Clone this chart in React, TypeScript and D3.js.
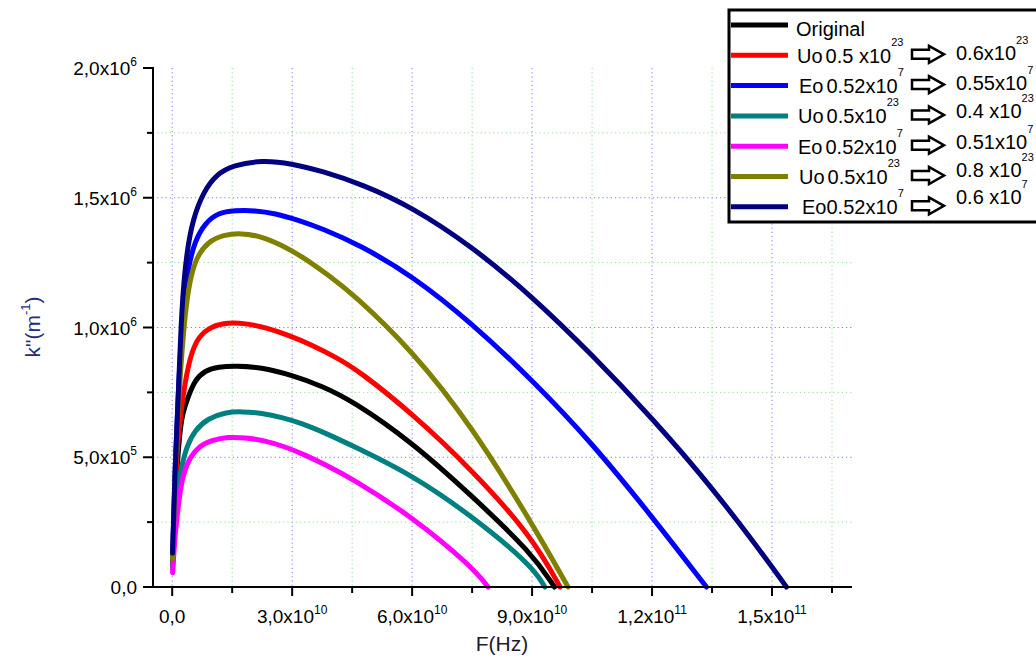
import React from "react";
import * as d3 from "d3";

// ---------- data ----------
const xTickValues = [0, 3e10, 6e10, 9e10, 1.2e11, 1.5e11];
const xTickMantissas = ["0,0", "3,0x10", "6,0x10", "9,0x10", "1,2x10", "1,5x10"];
const xTickExponents = ["", "10", "10", "10", "11", "11"];
const xMinorTicks = [1.5e10, 4.5e10, 7.5e10, 1.05e11, 1.35e11, 1.65e11];

const yTickValues = [0, 5e5, 1e6, 1.5e6, 2e6];
const yTickMantissas = ["0,0", "5,0x10", "1,0x10", "1,5x10", "2,0x10"];
const yTickExponents = ["", "5", "6", "6", "6"];
const yMinorTicks = [2.5e5, 7.5e5, 1.25e6, 1.75e6];

// [F (Hz), k'' (m^-1)]
const originalData: [number, number][] = [
  [1e8, 0.08e6], [8e8, 0.38e6], [1.9e9, 0.6e6], [2.6e9, 0.67e6], [4e9, 0.733e6],
  [5.7e9, 0.798e6], [8.2e9, 0.834e6], [1.15e10, 0.849e6], [1.6e10, 0.852e6],
  [2.2e10, 0.847e6], [3.0e10, 0.816e6], [3.75e10, 0.774e6], [4.5e10, 0.718e6],
  [6.0e10, 0.558e6], [7.5e10, 0.35e6], [9.0e10, 0.13e6], [9.56e10, 0],
];
const uo06Data: [number, number][] = [
  [1e8, 0.09e6], [8e8, 0.42e6], [1.6e9, 0.6e6], [2.75e9, 0.746e6], [4.4e9, 0.887e6],
  [6.5e9, 0.965e6], [9.85e9, 1.006e6], [1.4e10, 1.019e6], [1.82e10, 1.016e6],
  [2.32e10, 1.001e6], [2.9e10, 0.971e6], [3.49e10, 0.933e6], [4.15e10, 0.881e6],
  [4.69e10, 0.83e6], [6.0e10, 0.669e6], [7.5e10, 0.451e6], [9.0e10, 0.194e6],
  [9.7e10, 0],
];
const eo055Data: [number, number][] = [
  [1e8, 0.12e6], [8e8, 0.5e6], [1.6e9, 0.78e6], [2.75e9, 1.08e6], [4e9, 1.234e6],
  [5.7e9, 1.334e6], [8.2e9, 1.402e6], [1.15e10, 1.4425e6], [1.57e10, 1.451e6],
  [2.07e10, 1.451e6], [2.57e10, 1.44e6], [3.15e10, 1.414e6], [3.74e10, 1.382e6],
  [4.69e10, 1.318e6], [6.0e10, 1.2e6], [7.5e10, 1.016e6], [9.0e10, 0.798e6],
  [1.05e11, 0.555e6], [1.2e11, 0.271e6], [1.336e11, 0],
];
const uo04Data: [number, number][] = [
  [1e8, 0.07e6], [8e8, 0.3e6], [1.5e9, 0.4e6], [2.35e9, 0.4636e6], [3.6e9, 0.541e6],
  [5.7e9, 0.605e6], [9e9, 0.65e6], [1.32e10, 0.673e6], [1.74e10, 0.6765e6],
  [2.24e10, 0.67e6], [2.74e10, 0.654e6], [3.24e10, 0.631e6], [3.82e10, 0.594e6],
  [4.5e10, 0.545e6], [6.0e10, 0.432e6], [7.5e10, 0.273e6], [9.0e10, 0.082e6],
  [9.32e10, 0],
];
const eo051Data: [number, number][] = [
  [1e8, 0.055e6], [7e8, 0.2e6], [1.5e9, 0.309e6], [2.35e9, 0.412e6], [4e9, 0.489e6],
  [6.5e9, 0.541e6], [9.85e9, 0.566e6], [1.4e10, 0.578e6], [1.82e10, 0.576e6],
  [2.32e10, 0.564e6], [2.82e10, 0.541e6], [3.32e10, 0.509e6], [3.82e10, 0.472e6],
  [4.5e10, 0.418e6], [6.0e10, 0.271e6], [7.5e10, 0.078e6], [7.9e10, 0],
];
const uo08Data: [number, number][] = [
  [1e8, 0.11e6], [8e8, 0.48e6], [1.8e9, 0.78e6], [3.2e9, 1.055e6], [4.4e9, 1.183e6],
  [6.1e9, 1.273e6], [9e9, 1.331e6], [1.275e10, 1.357e6], [1.735e10, 1.364e6],
  [2.235e10, 1.351e6], [2.735e10, 1.318e6], [3.32e10, 1.267e6], [3.9e10, 1.202e6],
  [4.5e10, 1.132e6], [6.0e10, 0.912e6], [7.5e10, 0.618e6], [9.0e10, 0.245e6],
  [9.9e10, 0],
];
const eo06Data: [number, number][] = [
  [1e8, 0.13e6], [7e8, 0.45e6], [1.5e9, 0.72e6], [2.35e9, 1.08e6], [3.6e9, 1.292e6],
  [5.25e9, 1.421e6], [7.75e9, 1.521e6], [1.11e10, 1.591e6], [1.525e10, 1.625e6],
  [2.235e10, 1.645e6], [2.985e10, 1.632e6], [3.735e10, 1.603e6], [4.75e10, 1.552e6],
  [6.0e10, 1.464e6], [7.5e10, 1.312e6], [9.0e10, 1.12e6], [1.05e11, 0.895e6],
  [1.2e11, 0.651e6], [1.35e11, 0.385e6], [1.5e11, 0.079e6], [1.536e11, 0],
];

const seriesData = [originalData, uo06Data, eo055Data, uo04Data, eo051Data, uo08Data, eo06Data];
const seriesColors = ["#000000", "#ff0000", "#0000ff", "#008080", "#ff00ff", "#808000", "#000080"];

const legendParams = ["Uo", "Eo", "Uo", "Eo", "Uo", "Eo"];
const legendFrom = ["0.5 x10", "0.52x10", "0.5x10", "0.52x10", "0.5x10", "0.52x10"];
const legendFromExp = ["23", "7", "23", "7", "23", "7"];
const legendTo = ["0.6x10", "0.55x10", "0.4 x10", "0.51x10", "0.8 x10", "0.6 x10"];
const legendToExp = ["23", "7", "23", "7", "23", "7"];

// ---------- layout ----------
const W = 1036;
const H = 659;
const X0 = 153, X1 = 852, Y0 = 587, Y1 = 68;
const FONT = "Arial, 'Liberation Sans', Helvetica, sans-serif";
const legendLeftX = [797, 799, 798, 798, 799, 802];
const legendParamGap = [3, 3, 3, 3, 3, 0];
const legendRightDy = [4.5, 4.5, 2.5, 2.5, 0, -3];
const LEG_ROW0 = 25;
const LEG_ROW_STEP = 30.3;

export default function App() {
  const x = d3.scaleLinear().domain([-4.8e9, 1.7e11]).range([X0, X1]);
  const y = d3.scaleLinear().domain([0, 2e6]).range([Y0, Y1]);
  const line = d3
    .line<[number, number]>()
    .x((d) => x(d[0]))
    .y((d) => y(d[1]))
    .curve(d3.curveBasis);

  const blueGrid = "#7a7aff";
  const greenGrid = "#8fe08f";

  const arrowPath = (x0: number, yc: number) =>
    `M${x0},${yc - 4.5}L${x0 + 17},${yc - 4.5}L${x0 + 17},${yc - 8.5}L${x0 + 32},${yc}L${x0 + 17},${yc + 8.5}L${x0 + 17},${yc + 4.5}L${x0},${yc + 4.5}Z`;

  return (
    <div style={{ position: "absolute", left: 0, top: 0 }}>
      <svg width={W} height={H} style={{ display: "block", background: "#fff" }} fontFamily={FONT}>
        <rect x={0} y={0} width={W} height={H} fill="#fff" />
        {/* grid */}
        <g strokeWidth={1} strokeDasharray="1.2,3" fill="none">
          {xTickValues.map((v, i) => (
            <line key={"gx" + i} x1={x(v)} x2={x(v)} y1={Y1} y2={Y0} stroke={blueGrid} />
          ))}
          {xMinorTicks.map((v, i) => (
            <line key={"gxm" + i} x1={x(v)} x2={x(v)} y1={Y1} y2={Y0} stroke={greenGrid} />
          ))}
          {yTickValues.filter((v) => v > 0 && v < 2e6).map((v, i) => (
            <line key={"gy" + i} x1={X0} x2={X1} y1={y(v)} y2={y(v)} stroke={blueGrid} />
          ))}
          {yMinorTicks.map((v, i) => (
            <line key={"gym" + i} x1={X0} x2={X1} y1={y(v)} y2={y(v)} stroke={greenGrid} />
          ))}
        </g>

        {/* curves */}
        <g fill="none" strokeWidth={5} strokeLinecap="round" strokeLinejoin="round">
          {seriesData.map((d, i) => (
            <path key={"s" + i} d={line(d) || ""} stroke={seriesColors[i]} />
          ))}
        </g>

        {/* axes */}
        <g stroke="#000" strokeWidth={2}>
          <line x1={X0} x2={X0} y1={Y1 - 1} y2={Y0 + 1} />
          <line x1={X0 - 1} x2={X1} y1={Y0} y2={Y0} />
          {xTickValues.map((v, i) => (
            <line key={"tx" + i} x1={x(v)} x2={x(v)} y1={Y0} y2={Y0 + 9} />
          ))}
          {xMinorTicks.map((v, i) => (
            <line key={"txm" + i} x1={x(v)} x2={x(v)} y1={Y0} y2={Y0 + 6} />
          ))}
          {yTickValues.map((v, i) => (
            <line key={"ty" + i} x1={X0 - 10} x2={X0} y1={y(v)} y2={y(v)} />
          ))}
          {yMinorTicks.map((v, i) => (
            <line key={"tym" + i} x1={X0 - 6} x2={X0} y1={y(v)} y2={y(v)} />
          ))}
        </g>

        {/* tick labels */}
        <g fill="#000" fontSize={19}>
          {xTickValues.map((v, i) => (
            <text key={"lx" + i} x={x(v)} y={Y0 + 36} textAnchor="middle">
              {xTickMantissas[i]}
              {xTickExponents[i] && (
                <tspan dy={-9.5} fontSize={12}>
                  {xTickExponents[i]}
                </tspan>
              )}
            </text>
          ))}
          {yTickValues.map((v, i) => (
            <text key={"ly" + i} x={137} y={y(v) + 7} textAnchor="end">
              {yTickMantissas[i]}
              {yTickExponents[i] && (
                <tspan dy={-9} fontSize={12}>
                  {yTickExponents[i]}
                </tspan>
              )}
            </text>
          ))}
        </g>

        {/* axis titles */}
        <text x={502} y={651} textAnchor="middle" fontSize={21} fill="#1c1c30">
          F(Hz)
        </text>
        <text transform="translate(40,327) rotate(-90)" textAnchor="middle" fontSize={21} fill="#1f2d7a">
          k"(m
          <tspan dy={-10} fontSize={13}>-1</tspan>
          <tspan dy={10}>)</tspan>
        </text>

        {/* legend */}
        <g>
          <rect x={729} y={10} width={330} height={212} fill="#fff" stroke="#000" strokeWidth={3} />
          {seriesColors.map((c, i) => {
            const ly = LEG_ROW0 + i * LEG_ROW_STEP;
            return <line key={"ll" + i} x1={731} x2={788} y1={ly} y2={ly} stroke={c} strokeWidth={5} />;
          })}
          <text x={796} y={LEG_ROW0 + 10.5} fontSize={20} fill="#000">
            Original
          </text>
          {legendParams.map((p, j) => {
            const ly = LEG_ROW0 + (j + 1) * LEG_ROW_STEP;
            return (
              <g key={"lg" + j}>
                <text x={legendLeftX[j]} y={ly + 7.5} fontSize={20} fill="#000" style={{ whiteSpace: "pre" }}>
                  {p}
                  <tspan dx={legendParamGap[j]}>{legendFrom[j]}</tspan>
                  <tspan dy={-17} fontSize={11}>
                    {legendFromExp[j]}
                  </tspan>
                </text>
                <path d={arrowPath(912, ly - 1)} fill="#fff" stroke="#000" strokeWidth={2.5} strokeLinejoin="miter" />
                <text x={956} y={ly + legendRightDy[j]} fontSize={20} fill="#000" style={{ whiteSpace: "pre" }}>
                  {legendTo[j]}
                  <tspan dy={-16} fontSize={11}>
                    {legendToExp[j]}
                  </tspan>
                </text>
              </g>
            );
          })}
        </g>
      </svg>
    </div>
  );
}
